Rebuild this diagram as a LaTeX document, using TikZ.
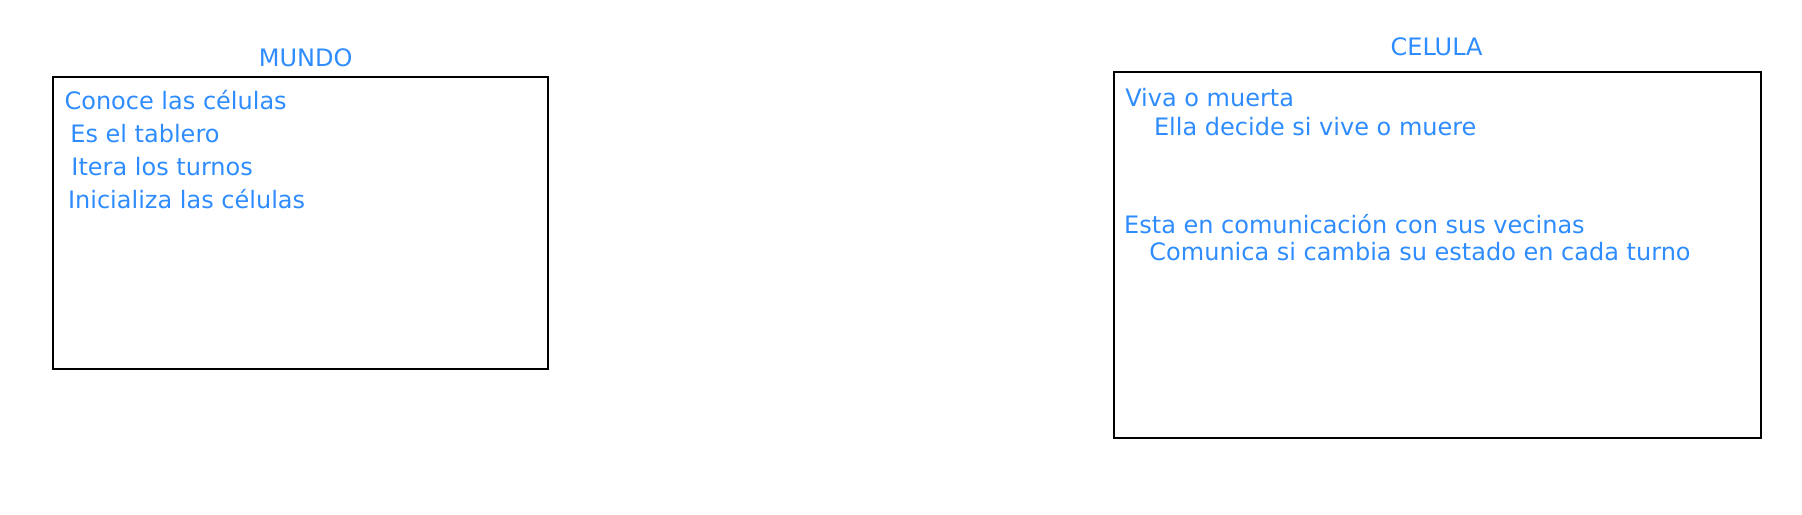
\documentclass[tikz,border=0pt]{standalone}
\usepackage{fontspec}
\setmainfont{DejaVu Sans}
\definecolor{txtblue}{HTML}{2E8CFF}
\begin{document}
\begin{tikzpicture}[x=0.75pt,y=-0.75pt,
  box/.style={draw=black,line width=1.5pt,fill=none},
  title/.style={text=txtblue,font=\fontsize{18}{20}\selectfont,inner sep=0pt,anchor=center},
  item/.style={text=txtblue,font=\fontsize{18}{20}\selectfont,inner sep=0pt,anchor=west}]
\useasboundingbox (0,0) rectangle (1802,514);
% MUNDO
\node[title] (mundoT) at (305.7,57.5) {MUNDO};
\draw[box] (52.9,77) rectangle (548.2,369);
\node[item] (m1) at (64.3,100) {Conoce las células};
\node[item] (m2) at (70.1,133.3) {Es el tablero};
\node[item] (m3) at (71.2,166.6) {Itera los turnos};
\node[item] (m4) at (67.8,198.8) {Inicializa las células};
% CELULA
\node[title] (celT) at (1436.6,47.1) {CELULA};
\draw[box] (1113.6,72.4) rectangle (1760.6,437.8);
\node[item] (c1) at (1125,97.7) {Viva o muerta};
\node[item] (c2) at (1153.8,126.4) {Ella decide si vive o muere};
\node[item] (c3) at (1123.9,224.1) {Esta en comunicación con sus vecinas};
\node[item] (c4) at (1149.2,251.7) {Comunica si cambia su estado en cada turno};
\end{tikzpicture}
\end{document}
